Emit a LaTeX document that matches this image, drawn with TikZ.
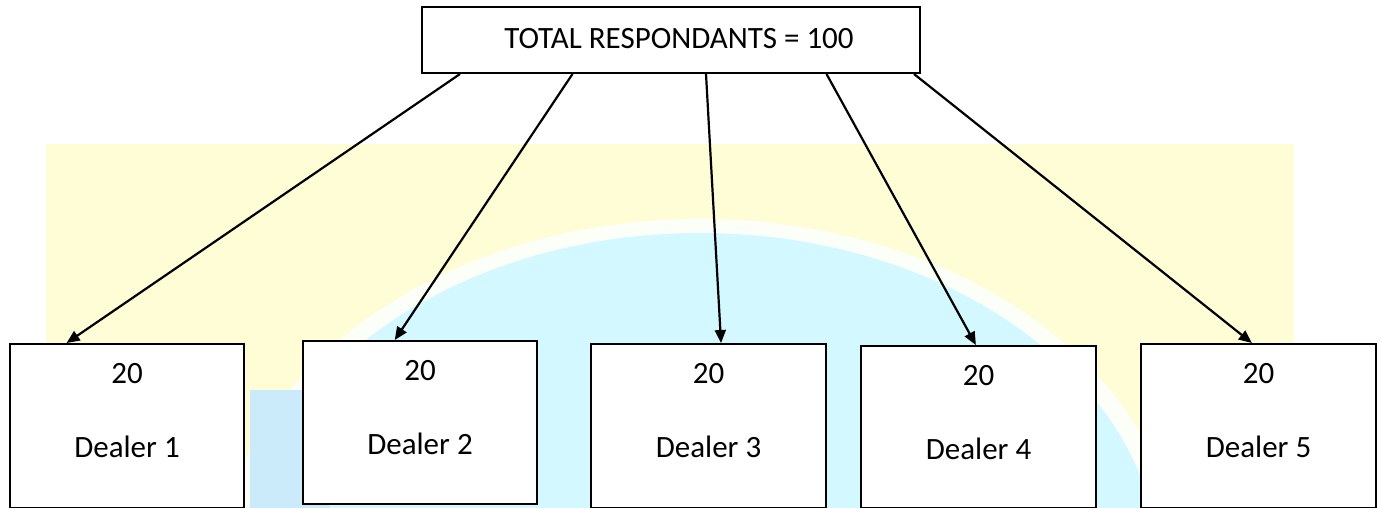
\documentclass[tikz,border=0pt]{standalone}
\usepackage{fontspec}
\setmainfont{Carlito}
\usetikzlibrary{arrows.meta,calc}
\definecolor{wmyellow}{HTML}{FFFDD6}
\definecolor{wmcyan}{HTML}{D4F8FF}
\definecolor{wmblue}{HTML}{CBEBFB}
\definecolor{wmhalo}{HTML}{FBFFF8}
\tikzset{
  box/.style={draw=black,line width=2pt,fill=white,anchor=north west,inner sep=0pt},
  lbl/.style={font=\fontsize{31}{36}\selectfont,inner sep=0pt,anchor=center},
  arr/.style={line width=2.2pt,-{Triangle[length=13pt,width=11pt]}}
}
\begin{document}
\begin{tikzpicture}[x=1pt,y=-1pt]
\useasboundingbox (0,0) rectangle (1382,508);
% watermark background
\fill[wmyellow] (46,144) rectangle (1294,508);
\fill[wmhalo] (700,575) ellipse [x radius=480, y radius=356];
\fill[wmcyan] (700,575) ellipse [x radius=460, y radius=342];
\fill[wmblue] (250,390) rectangle (330,508);
% top node
\node[box,minimum width=498pt,minimum height=66pt] (top) at (421,6) {};
\node[lbl] (toptext) at ($(top.center)+(8,-1)$) {TOTAL RESPONDANTS = 100};
% dealer boxes
\node[box,minimum width=234pt,minimum height=164pt] (d1) at (9,343) {};
\node[box,minimum width=234pt,minimum height=163pt] (d2) at (302,340) {};
\node[box,minimum width=235pt,minimum height=164pt] (d3) at (590,343) {};
\node[box,minimum width=235pt,minimum height=162pt] (d4) at (860,345) {};
\node[box,minimum width=235pt,minimum height=164pt] (d5) at (1140,343) {};
\foreach \i in {1,...,5}{
  \node[lbl] (n\i) at ($(d\i.north)+(0,31)$) {20};
  \node[lbl] (t\i) at ($(d\i.north)+(0,104)$) {Dealer \i};
}
% connectors
\draw[arr] ($(top.south west)!0.078!(top.south east)$) -- ($(d1.north west)!0.244!(d1.north east)$);
\draw[arr] ($(top.south west)!0.303!(top.south east)$) -- ($(d2.north west)!0.393!(d2.north east)$);
\draw[arr] ($(top.south west)!0.570!(top.south east)$) -- ($(d3.north west)!0.553!(d3.north east)$);
\draw[arr] ($(top.south west)!0.811!(top.south east)$) -- ($(d4.north west)!0.489!(d4.north east)$);
\draw[arr] ($(top.south west)!0.986!(top.south east)$) -- ($(d5.north west)!0.472!(d5.north east)$);
\end{tikzpicture}
\end{document}
